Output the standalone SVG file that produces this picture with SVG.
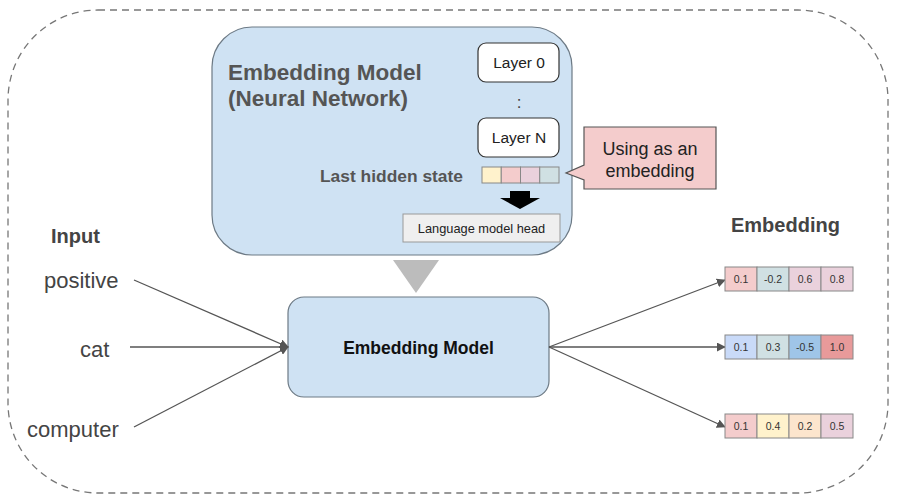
<svg xmlns="http://www.w3.org/2000/svg" width="900" height="501" viewBox="0 0 900 501">
<defs>
<marker id="ah" viewBox="0 0 10 10" refX="9" refY="5" markerWidth="9" markerHeight="9" markerUnits="userSpaceOnUse" orient="auto">
<path d="M0,0 L10,5 L0,10 Z" fill="#555"/>
</marker>
<style>
text{font-family:"Liberation Sans",Arial,sans-serif}
.blue{fill:#cfe2f3;stroke:#6d7a85;stroke-width:1.2}
.layer{fill:#fff;stroke:#333;stroke-width:1.2}
.cell{stroke:#888;stroke-width:1}
.ctext{font-size:10.5px;fill:#333;text-anchor:middle}
.word{font-size:22px;fill:#444}
.conn{stroke:#555;stroke-width:1.3;fill:none;marker-end:url(#ah)}
</style>
</defs>
<rect width="900" height="501" fill="#fff"/>
<rect x="8" y="10" width="880" height="483" rx="90" ry="90" fill="none" stroke="#777" stroke-width="1.3" stroke-dasharray="7,5"/>

<g id="nn">
<rect class="blue" x="212" y="27" width="360" height="228" rx="40" ry="40"/>
<text x="228" y="80" font-size="22.5" font-weight="bold" fill="#555">Embedding Model</text>
<text x="228" y="106" font-size="22.5" font-weight="bold" fill="#555">(Neural Network)</text>
</g>
<g id="layer0">
<rect class="layer" x="478" y="43" width="81" height="39" rx="8"/>
<text x="519" y="68" font-size="15.5" fill="#222" text-anchor="middle">Layer 0</text>
</g>
<g id="dots"><text x="519" y="108" font-size="17" fill="#444" text-anchor="middle">:</text></g>
<g id="layerN">
<rect class="layer" x="478" y="118" width="81" height="39" rx="8"/>
<text x="519" y="143" font-size="15.5" fill="#222" text-anchor="middle">Layer N</text>
</g>
<g id="hidden">
<text x="463" y="182" font-size="17.4" font-weight="bold" fill="#555" text-anchor="end">Last hidden state</text>
<rect class="cell" x="482" y="167" width="19.25" height="16" fill="#fff2cc"/>
<rect class="cell" x="501.25" y="167" width="19.25" height="16" fill="#f4cccc"/>
<rect class="cell" x="520.5" y="167" width="19.25" height="16" fill="#ead1dc"/>
<rect class="cell" x="539.75" y="167" width="19.25" height="16" fill="#d0e0e3"/>
</g>
<g id="downarrow"><polygon points="510,191 530,191 530,198 540,198 520,209 500,198 510,198" fill="#000"/></g>
<g id="lmhead">
<rect x="403" y="214" width="157" height="28" fill="#efefef" stroke="#999" stroke-width="1"/>
<text x="481.5" y="233" font-size="12.8" fill="#222" text-anchor="middle">Language model head</text>
</g>
<g id="callout">
<path d="M584,127 H716 V189 H584 V180 L566,173 L584,165 Z" fill="#f4cccc" stroke="#555" stroke-width="1.2"/>
<text x="650" y="155" font-size="18" fill="#222" text-anchor="middle">Using as an</text>
<text x="650" y="177" font-size="18" fill="#222" text-anchor="middle">embedding</text>
</g>
<g id="tri"><polygon points="393,260 439,260 416,293" fill="#bcbcbc"/></g>
<g id="emb">
<rect class="blue" x="288" y="297" width="261" height="100" rx="16" ry="16"/>
<text x="418.5" y="354" font-size="17.5" font-weight="bold" fill="#111" text-anchor="middle">Embedding Model</text>
</g>
<g id="inputs">
<text x="51" y="243" font-size="20" font-weight="bold" fill="#444">Input</text>
<text class="word" x="44" y="288">positive</text>
<text class="word" x="80" y="357">cat</text>
<text class="word" x="27" y="437">computer</text>
</g>
<g id="connectors">
<line class="conn" x1="134" y1="280" x2="288" y2="347"/>
<line class="conn" x1="130" y1="347" x2="288" y2="347"/>
<line class="conn" x1="134" y1="427" x2="288" y2="347"/>
<line class="conn" x1="549" y1="347" x2="725" y2="280"/>
<line class="conn" x1="549" y1="347" x2="725" y2="347"/>
<line class="conn" x1="549" y1="347" x2="725" y2="427"/>
</g>
<g id="outputs">
<text x="731" y="232" font-size="20" font-weight="bold" fill="#444">Embedding</text>
<g id="vec1">
<rect class="cell" x="725" y="267" width="32" height="24" fill="#f4cccc"/>
<rect class="cell" x="757" y="267" width="32" height="24" fill="#d0e0e3"/>
<rect class="cell" x="789" y="267" width="32" height="24" fill="#ead1dc"/>
<rect class="cell" x="821" y="267" width="32" height="24" fill="#ead1dc"/>
<text class="ctext" x="741" y="283">0.1</text>
<text class="ctext" x="773" y="283">-0.2</text>
<text class="ctext" x="805" y="283">0.6</text>
<text class="ctext" x="837" y="283">0.8</text>
</g>
<g id="vec2">
<rect class="cell" x="725" y="335" width="32" height="24" fill="#c9daf8"/>
<rect class="cell" x="757" y="335" width="32" height="24" fill="#d0e0e3"/>
<rect class="cell" x="789" y="335" width="32" height="24" fill="#9fc5e8"/>
<rect class="cell" x="821" y="335" width="32" height="24" fill="#e89a9a"/>
<text class="ctext" x="741" y="351">0.1</text>
<text class="ctext" x="773" y="351">0.3</text>
<text class="ctext" x="805" y="351">-0.5</text>
<text class="ctext" x="837" y="351">1.0</text>
</g>
<g id="vec3">
<rect class="cell" x="725" y="414" width="32" height="24" fill="#f4cccc"/>
<rect class="cell" x="757" y="414" width="32" height="24" fill="#fff2cc"/>
<rect class="cell" x="789" y="414" width="32" height="24" fill="#fce5cd"/>
<rect class="cell" x="821" y="414" width="32" height="24" fill="#ead1dc"/>
<text class="ctext" x="741" y="430">0.1</text>
<text class="ctext" x="773" y="430">0.4</text>
<text class="ctext" x="805" y="430">0.2</text>
<text class="ctext" x="837" y="430">0.5</text>
</g>
</g>
</svg>
